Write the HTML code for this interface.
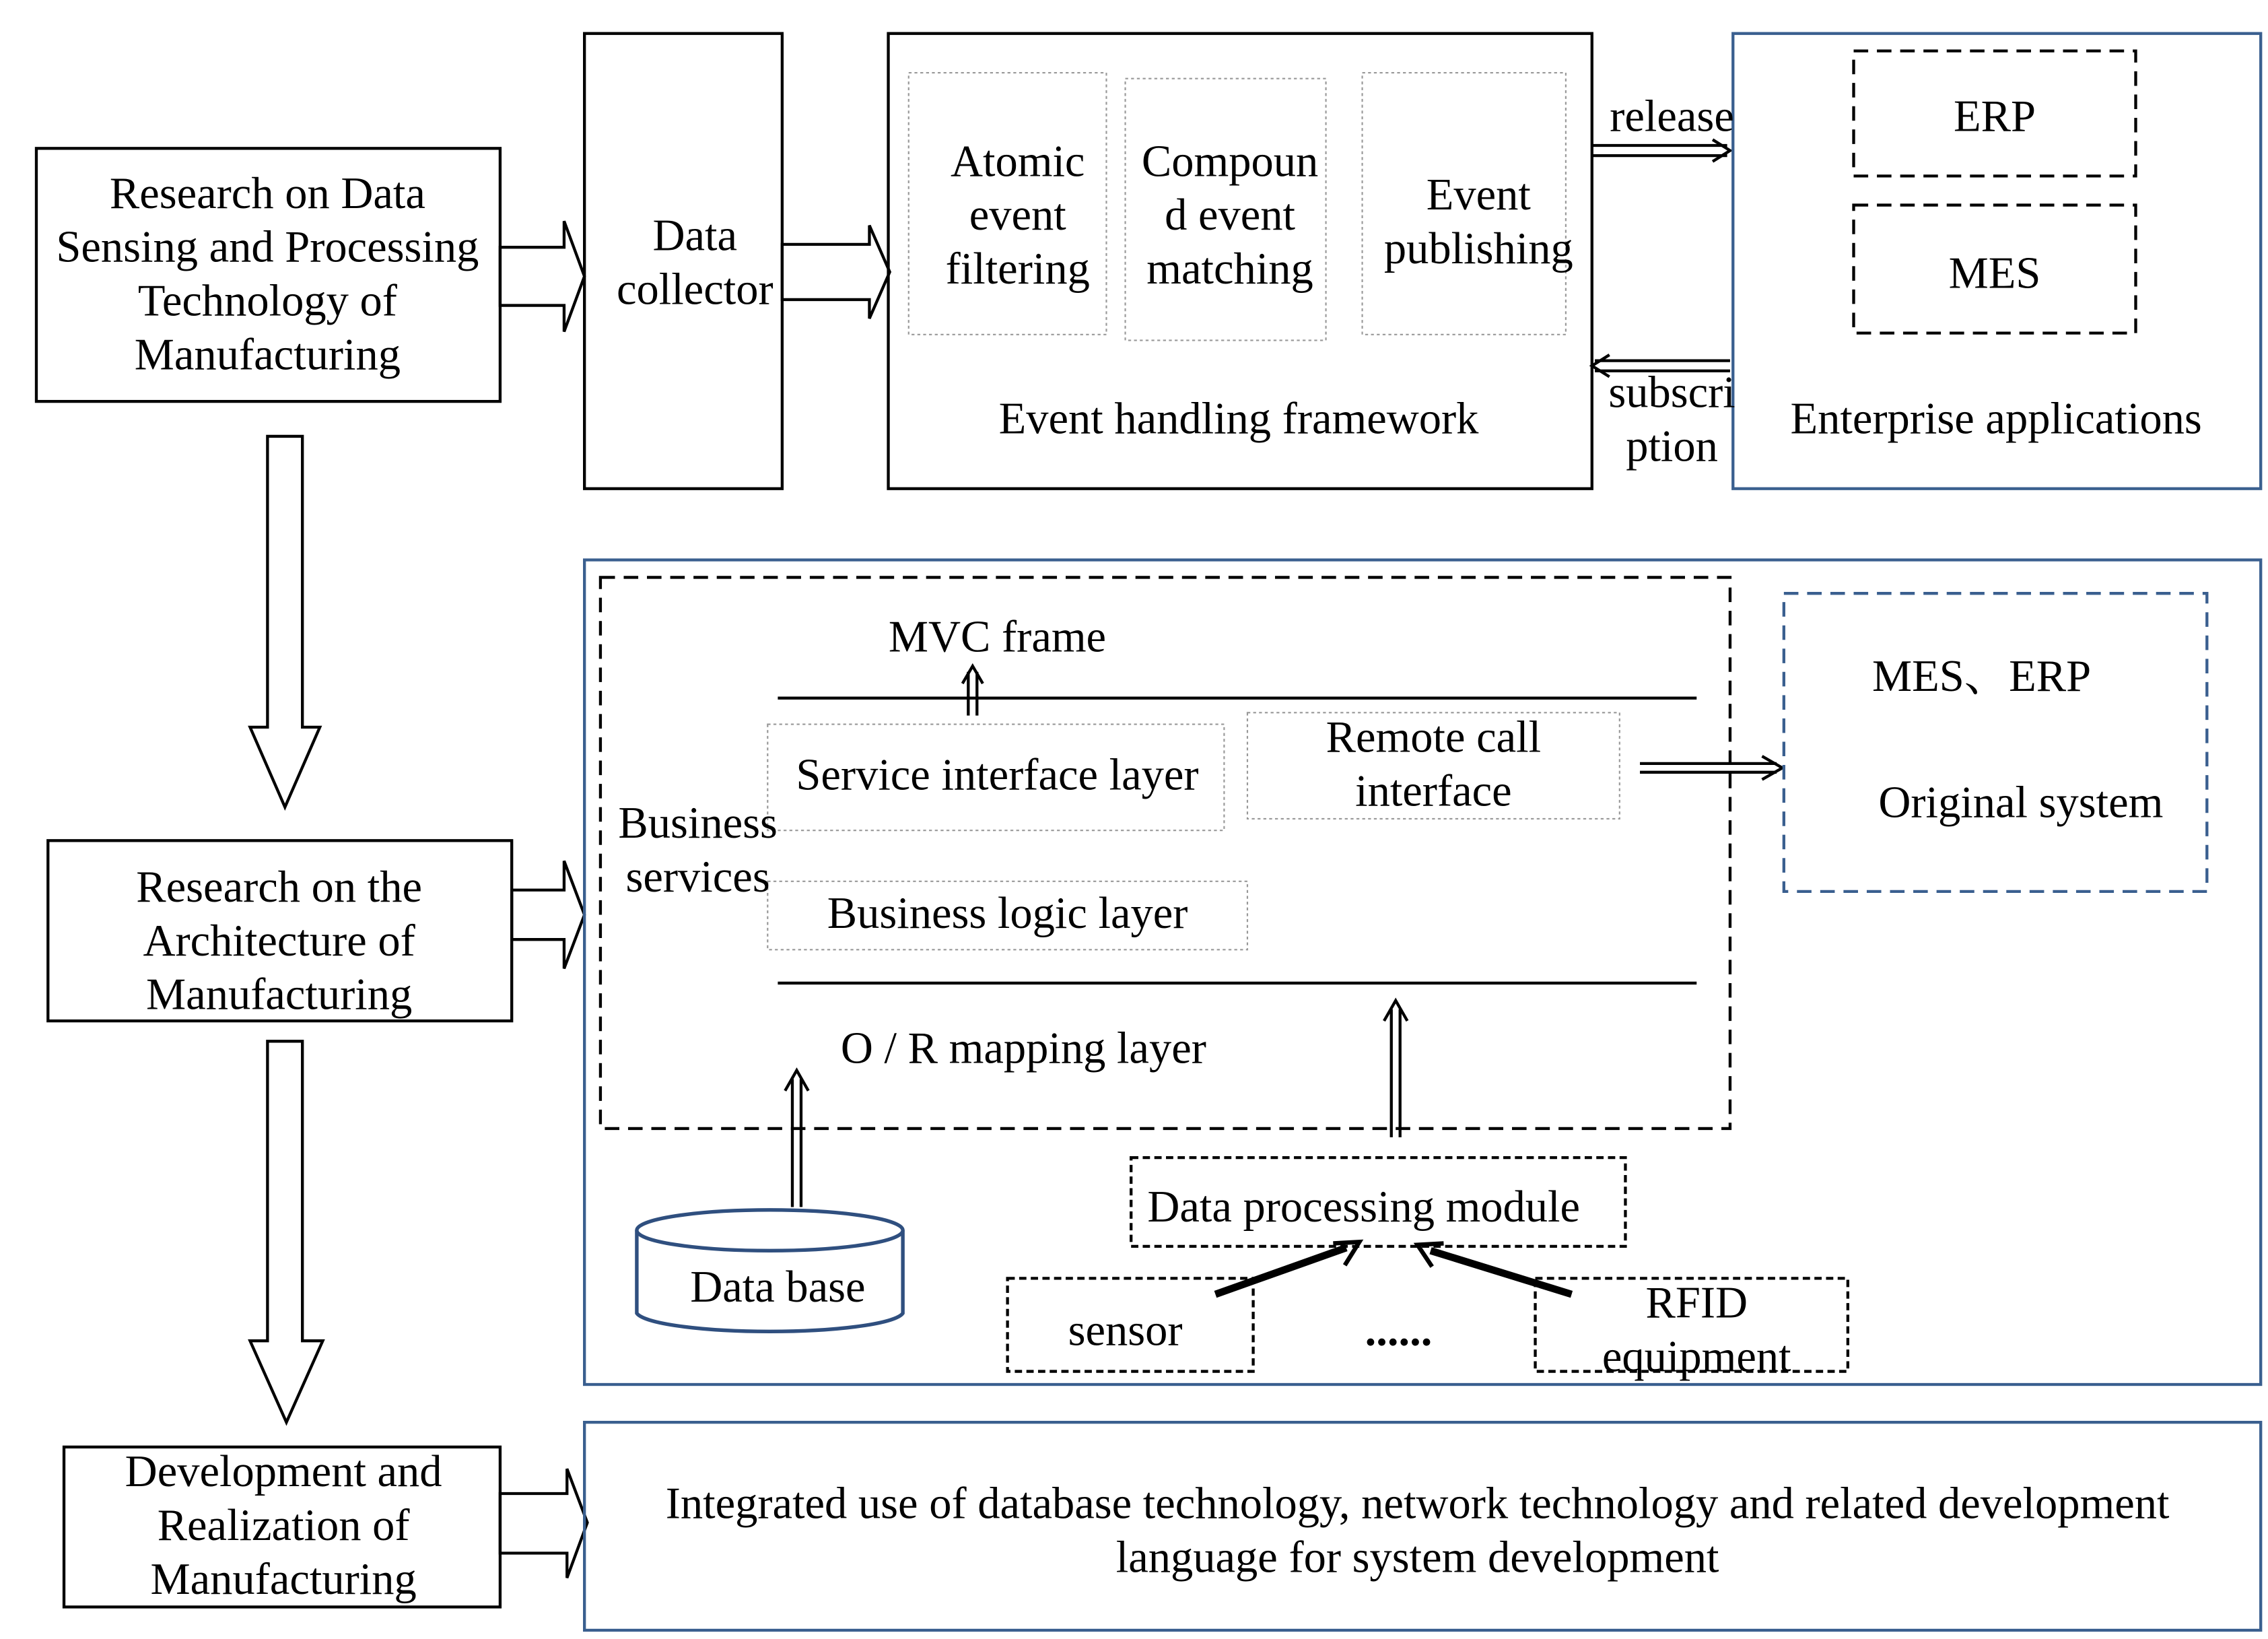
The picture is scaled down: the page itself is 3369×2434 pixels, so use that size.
<!DOCTYPE html>
<html><head><meta charset="utf-8"><style>
html,body{margin:0;padding:0;background:#fff;}
svg{display:block;}
text{font-family:"Liberation Serif",serif;font-size:30.8px;fill:#000;text-anchor:middle;dominant-baseline:central;}
</style></head><body>
<svg width="3369" height="2434" viewBox="0 0 1560 1127" xmlns="http://www.w3.org/2000/svg">
<g fill="none" stroke="#000" stroke-width="2">
<rect x="25" y="102" width="319" height="174"/>
<polygon points="344,170 388,170 388,152 402,190 388,228 388,210 344,210"/>
<rect x="402" y="23" width="136" height="313"/>
<polygon points="538,168 598,168 598,155 612,187 598,219 598,206 538,206"/>
<rect x="611" y="23" width="484" height="313"/>
<g stroke="#999" stroke-width="1" stroke-dasharray="2,2">
<rect x="625" y="50" width="136" height="180"/>
<rect x="774" y="54" width="138" height="180"/>
<rect x="937" y="50" width="140" height="180"/>
<rect x="528" y="498" width="314" height="73"/>
<rect x="858" y="490" width="256" height="73"/>
<rect x="528" y="606" width="330" height="47"/>
</g>
<line x1="1095" y1="100" x2="1188" y2="100"/>
<line x1="1095" y1="107" x2="1188" y2="107"/>
<path d="M1178,96 L1190,103.5 L1178,111"/>
<line x1="1097" y1="248" x2="1190" y2="248"/>
<line x1="1097" y1="255" x2="1190" y2="255"/>
<path d="M1107,244 L1095,251.5 L1107,259"/>
<rect x="1192" y="23" width="363" height="313" stroke="#3a5f8f"/>
<g stroke-dasharray="10,6">
<rect x="1275" y="35" width="194" height="86"/>
<rect x="1275" y="141" width="194" height="88"/>
</g>
<polygon points="184,300 208,300 208,500 220,500 196,555 172,500 184,500"/>
<rect x="33" y="578" width="319" height="124"/>
<polygon points="352,612 388,612 388,592 402,629 388,666 388,646 352,646"/>
<polygon points="184,716 208,716 208,922 222,922 197,978 172,922 184,922"/>
<rect x="44" y="995" width="300" height="110"/>
<polygon points="344,1027 390,1027 390,1010 404,1047 390,1085 390,1068 344,1068"/>
<rect x="402" y="385" width="1153" height="567" stroke="#3a5f8f"/>
<rect x="413" y="397" width="777" height="379" stroke-dasharray="10,6"/>
<line x1="535" y1="480" x2="1167" y2="480"/>
<line x1="535" y1="676" x2="1167" y2="676"/>
<line x1="666" y1="492" x2="666" y2="462"/><line x1="672" y1="492" x2="672" y2="462"/>
<path d="M662,470 L669,458 L676,470"/>
<line x1="1128" y1="525" x2="1222" y2="525"/><line x1="1128" y1="531" x2="1222" y2="531"/>
<path d="M1212,520 L1226,528 L1212,536"/>
<rect x="1227" y="408" width="291" height="205" stroke="#3a5f8f" stroke-dasharray="10,6"/>
<line x1="545" y1="830" x2="545" y2="742"/><line x1="551" y1="830" x2="551" y2="742"/>
<path d="M540,750 L548,736 L556,750"/>
<line x1="957" y1="782" x2="957" y2="694"/><line x1="963" y1="782" x2="963" y2="694"/>
<path d="M952,702 L960,688 L968,702"/>
<path d="M438,846 L438,903 A92,14 0 0 0 621,903 L621,846" stroke="#2f4f7f" stroke-width="2.5" fill="#fff"/>
<ellipse cx="529.5" cy="846" rx="91.5" ry="14" stroke="#2f4f7f" stroke-width="2.5" fill="#fff"/>
<g stroke-dasharray="5,3">
<rect x="778" y="796" width="340" height="61"/>
<rect x="693" y="879" width="169" height="64"/>
<rect x="1056" y="879" width="215" height="64"/>
</g>
<line x1="836" y1="890" x2="926" y2="858" stroke-width="5"/>
<path d="M917,855 L935,854 L925,870" stroke-width="3"/>
<line x1="1081" y1="890" x2="984" y2="860" stroke-width="5"/>
<path d="M993,855 L975,856 L985,871" stroke-width="3"/>
<rect x="402" y="978" width="1153" height="143" stroke="#3a5f8f"/>
</g>
<text x="184" y="133">Research on Data</text>
<text x="184" y="170">Sensing and Processing</text>
<text x="184" y="207">Technology of</text>
<text x="184" y="244">Manufacturing</text>
<text x="478" y="162">Data</text>
<text x="478" y="199">collector</text>
<text x="700" y="111">Atomic</text><text x="700" y="148">event</text><text x="700" y="185">filtering</text>
<text x="846" y="111">Compoun</text><text x="846" y="148">d event</text><text x="846" y="185">matching</text>
<text x="1017" y="134">Event</text><text x="1017" y="171">publishing</text>
<text x="852" y="288">Event handling framework</text>
<text x="1150" y="80">release</text>
<text x="1150" y="270">subscri</text><text x="1150" y="307">ption</text>
<text x="1372" y="80">ERP</text><text x="1372" y="188">MES</text>
<text x="1373" y="288">Enterprise applications</text>
<text x="192" y="610">Research on the</text><text x="192" y="647">Architecture of</text><text x="192" y="684">Manufacturing</text>
<text x="195" y="1012">Development and</text><text x="195" y="1049">Realization of</text><text x="195" y="1086">Manufacturing</text>
<text x="686" y="438">MVC frame</text>
<text x="686" y="533">Service interface layer</text>
<text x="986" y="507">Remote call</text><text x="986" y="544">interface</text>
<text x="693" y="628">Business logic layer</text>
<text x="480" y="566">Business</text><text x="480" y="603">services</text>
<text x="704" y="721">O / R mapping layer</text>
<text x="1363" y="465" style="font-family:'Liberation Serif','Noto Serif CJK SC',serif">MES、ERP</text>
<text x="1390" y="552">Original system</text>
<text x="535" y="885">Data base</text>
<text x="938" y="830">Data processing module</text>
<text x="774" y="915">sensor</text>
<text x="962" y="915" style="font-weight:bold">......</text>
<text x="1167" y="896">RFID</text><text x="1167" y="933">equipment</text>
<text x="975" y="1034">Integrated use of database technology, network technology and related development</text>
<text x="975" y="1071">language for system development</text>
</svg>
</body></html>
